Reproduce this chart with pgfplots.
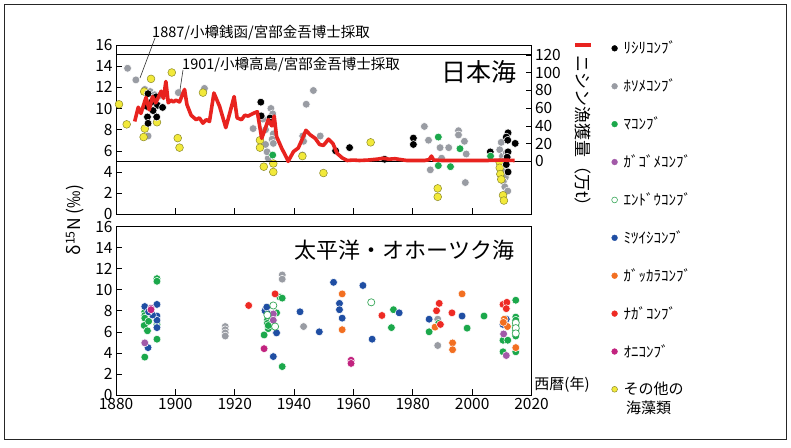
\documentclass[border=0pt]{standalone}
\usepackage{pgfplots}
\pgfplotsset{compat=1.18}
\usepackage{fontspec}
\setmainfont{Noto Sans CJK JP}
\definecolor{cGray}{RGB}{153,156,163}
\definecolor{cGreen}{RGB}{27,168,75}
\definecolor{cPurple}{RGB}{162,89,168}
\definecolor{cOpen}{RGB}{58,168,90}
\definecolor{cBlue}{RGB}{31,78,163}
\definecolor{cOrange}{RGB}{242,111,33}
\definecolor{cRed}{RGB}{238,42,36}
\definecolor{cMag}{RGB}{194,35,127}
\definecolor{cYel}{RGB}{242,233,58}
\definecolor{cYelE}{RGB}{140,138,42}
\definecolor{cHer}{RGB}{232,35,31}
\pgfplotsset{
  dot/.style={only marks, mark=*, mark size=3.9pt, mark options={fill=#1, draw=white, line width=0.5pt}},
  ydot/.style={only marks, mark=*, mark size=3.9pt, mark options={fill=cYel, draw=cYelE, line width=0.5pt}},
  odot/.style={only marks, mark=*, mark size=3.6pt, mark options={fill=white, draw=cOpen, line width=0.7pt}},
  ldot/.style={only marks, mark=*, mark size=2.9pt, mark options={fill=#1, draw=#1}},
  base/.style={scale only axis, width=415.5pt, xmin=1880, xmax=2020, ymin=0, ymax=16,
    ytick={0,2,...,16}, xtick={1880,1900,...,2020}, tick align=inside, major tick length=6pt,
    tick style={black, line width=0.6pt}, axis line style={line width=0.8pt},
    ticklabel style={font=\fontsize{15.5}{16}\selectfont},
    /pgf/number format/assume math mode=true, /pgf/number format/1000 sep={},
    xtick pos=bottom, ytick pos=left},
}
\begin{document}
\begin{tikzpicture}[x=1pt,y=1pt]
\path[use as bounding box] (0,0) rectangle (791,447);
\fill[white] (0,0) rectangle (791,447);
\draw[black!85, line width=0.8pt] (4,7.5) rectangle (786.5,443);
% ---------------- top panel ----------------
\begin{axis}[base, at={(116pt,232.7pt)}, anchor=south west, height=169.3pt, xticklabels={},
  legend cell align=left,
  legend style={draw=none, fill=none, at={(1,1)}, anchor=north west, xshift=80pt, yshift=5pt,
    font=\fontsize{15}{18}\selectfont, row sep=21.6pt, column sep=5pt, inner sep=0pt, nodes={inner sep=1pt}}]
\addplot[dot=cGray, forget plot] table {
1883.9 13.8
1886.7 12.7
1889.7 11.8
1891.5 11.6
1893.0 11.3
1894.5 11.2
1890.8 7.4
1901.0 11.5
1909.8 11.9
1926.2 8.1
1929.5 9.0
1930.4 8.0
1932.2 10.0
1932.8 9.5
1933.0 8.6
1933.0 7.6
1930.4 6.6
1932.6 7.1
1931.3 5.3
1933.0 6.7
1930.9 5.9
1942.8 5.6
1942.9 7.4
1943.2 6.9
1944.1 10.4
1946.5 11.7
1948.8 7.4
1983.9 8.3
1985.3 7.0
1985.9 4.2
1989.2 6.3
1989.7 5.3
1992.1 6.3
1995.4 7.9
1995.4 7.5
1997.4 6.9
1998.0 5.7
1997.7 3.0
2009.3 6.1
2009.8 6.8
2010.2 5.5
2010.5 5.0
2011.0 4.5
2010.8 4.0
2011.2 3.5
2010.5 3.1
2011.0 2.6
2012.0 2.2
2011.5 5.8
2009.5 4.8
};
\addplot[ydot, forget plot] table {
1881.0 10.4
1883.6 8.5
1891.8 12.8
1898.8 13.4
1889.5 11.6
1889.7 8.1
1889.3 7.3
1893.8 8.7
1900.8 7.2
1901.4 6.3
1909.3 11.5
1928.5 7.0
1928.5 6.3
1929.8 4.5
1933.0 4.8
1933.0 4.0
1942.8 5.5
1949.9 3.9
1965.8 6.8
1988.4 2.45
1988.4 1.65
2009.3 4.9
2009.3 4.4
2009.5 3.8
2009.8 3.3
2010.4 1.8
2010.7 1.3
};
\addplot[dot=black, forget plot] table {
1890.8 11.4
1890.4 10.2
1890.6 9.2
1890.8 8.6
1892.0 10.6
1893.5 11.1
1894.0 10.3
1893.7 9.2
1895.7 10.1
1892.5 9.8
1928.8 10.6
1928.9 9.3
1931.9 9.1
1932.2 8.7
1954.0 6.0
1958.7 6.3
1970.5 5.2
1980.2 7.2
1980.2 6.6
2006.1 5.9
2012.1 7.7
2011.5 7.3
2012.0 7.0
2014.5 6.7
2012.1 5.9
2011.8 5.4
2011.5 4.7
2012.1 4.0
};
\addplot[dot=cGreen, forget plot] table {
1932.8 5.6
1988.6 7.3
1995.9 6.2
1988.6 4.6
1992.7 4.5
2006.2 5.5
};
\addlegendimage{ldot=black}\addlegendentry{ﾘｼﾘｺﾝﾌﾞ}
\addlegendimage{ldot=cGray}\addlegendentry{ﾎｿﾒｺﾝﾌﾞ}
\addlegendimage{ldot=cGreen}\addlegendentry{ﾏｺﾝﾌﾞ}
\addlegendimage{ldot=cPurple}\addlegendentry{ｶﾞｺﾞﾒｺﾝﾌﾞ}
\addlegendimage{only marks, mark=*, mark size=2.9pt, mark options={fill=white, draw=cOpen, line width=0.6pt}}\addlegendentry{ｴﾝﾄﾞｳｺﾝﾌﾞ}
\addlegendimage{ldot=cBlue}\addlegendentry{ﾐﾂｲｼｺﾝﾌﾞ}
\addlegendimage{ldot=cOrange}\addlegendentry{ｶﾞｯｶﾗｺﾝﾌﾞ}
\addlegendimage{ldot=cRed}\addlegendentry{ﾅｶﾞｺﾝﾌﾞ}
\addlegendimage{ldot=cMag}\addlegendentry{ｵﾆｺﾝﾌﾞ}
\addlegendimage{only marks, mark=*, mark size=2.9pt, mark options={fill=cYel, draw=cYelE, line width=0.5pt}}\addlegendentry{その他の}
\end{axis}
% herring catch, right axis
\begin{axis}[scale only axis, at={(116pt,232.7pt)}, anchor=south west, width=415.5pt, height=169.3pt,
  xmin=1880, xmax=2020, ymin=-59.6, ymax=131.1, axis x line=none, axis y line*=right,
  ytick={0,20,...,120}, tick align=inside, major tick length=6pt,
  tick style={black, line width=0.6pt}, axis line style={line width=0.8pt},
  ticklabel style={font=\fontsize{15.5}{16}\selectfont},
  /pgf/number format/assume math mode=true]
\addplot[black, line width=0.8pt] coordinates {(1880,0) (2020,0)};
\addplot[black, line width=0.8pt] coordinates {(1880,120.5) (2020,120.5)};
\addplot[cHer, line width=3.6pt, line join=round] table {
1886.3 45
1887.5 61
1888.4 54
1890.1 72
1891.2 58
1892.3 73
1893.4 66
1895.2 79
1896.0 71
1896.8 90
1897.6 66
1898.5 69
1899.3 67
1900.2 69
1901.4 67
1903.1 81
1903.9 64
1905.3 52
1907.0 47
1908.1 49
1909.3 43
1910.4 47
1911.5 45
1913.0 77
1914.9 62
1917.0 38
1918.3 54
1919.8 73
1920.8 49
1922.3 47
1923.4 52
1924.5 51
1926.2 54
1927.6 56
1929.1 26
1930.2 36
1931.3 47
1932.5 40
1933.3 51
1934.1 28
1935.8 15
1937.5 4
1938.0 0
1939.8 11
1941.4 15
1942.6 24
1944.0 35
1945.4 30
1947.1 26
1948.6 19
1949.9 18
1951.6 25
1953.1 20
1954.5 9
1956.2 4
1957.9 1
1960 1.5
1962 1
1965 1.5
1968 2.5
1970 3.5
1972 2.5
1974 3
1976 2
1978 1
1980 1
1984 1
1985.5 2
1986.3 6
1987 1.5
1990 1
2000 1
2005 1
2010 1.5
2014.3 1
};
\end{axis}
% ---------------- bottom panel ----------------
\begin{axis}[base, at={(116pt,52pt)}, anchor=south west, height=168.5pt]
\addplot[dot=cGray] table {
1916.8 6.5
1916.8 6.2
1916.8 5.9
1916.8 5.6
1936.0 11.4
1936.0 11.0
1943.2 6.5
1934.0 5.9
1988.4 7.2
1988.4 4.7
};
\addplot[dot=cGreen] table {
1889.7 7.9
1889.7 7.55
1889.7 7.3
1889.5 6.6
1890.6 6.1
1889.7 3.6
1891.0 7.0
1893.8 11.05
1893.8 10.8
1893.8 6.7
1893.8 5.3
1929.9 5.7
1931.0 7.1
1931.3 6.3
1931.0 6.8
1931.3 6.6
1934.1 7.8
1935.2 9.3
1936.0 9.2
1936.0 2.7
1972.8 6.4
1973.5 8.1
1985.5 6.0
1988.7 6.8
1998.3 6.35
2004.0 7.5
2010.4 5.2
2012.0 5.2
2010.4 4.1
2014.7 9.0
2014.7 7.4
2014.7 7.1
2014.7 6.6
2014.7 6.1
2014.7 5.6
2014.7 4.1
};
\addplot[dot=cBlue] table {
1889.7 8.4
1890.8 4.5
1893.8 8.6
1893.8 7.5
1893.8 7.1
1893.8 6.4
1892.3 7.6
1891.0 7.9
1930.2 8.0
1930.8 8.35
1931.5 7.7
1934.1 5.9
1933.0 3.65
1942.0 7.9
1948.5 6.0
1953.3 10.7
1955.3 8.7
1955.3 8.1
1956.2 7.3
1963.2 10.4
1966.3 5.3
1975.4 7.8
1985.5 7.2
1996.6 7.5
2011.5 7.2
2010.4 6.7
};
\addplot[dot=cOrange] table {
1956.2 9.6
1956.2 6.2
1987.5 6.45
1993.4 4.95
1993.4 4.3
1996.6 9.6
2010.8 7.2
2011.9 6.5
2010.5 6.9
2014.7 4.5
};
\addplot[dot=cRed] table {
1924.7 8.5
1933.6 9.6
1969.6 7.55
1988.0 8.0
1988.9 8.7
1989.3 6.7
1993.2 7.8
2010.4 8.6
2011.7 8.8
2011.5 8.2
};
\addplot[dot=cPurple] table {
1889.7 4.95
1891.8 8.25
1933.0 7.7
1933.0 7.1
2010.6 5.8
2011.5 3.75
};
\addplot[dot=cMag] table {
1891.8 8.1
1929.9 4.4
1959.2 3.3
1959.2 3.0
};
\addplot[odot] table {
1966.0 8.8
1933.0 8.5
1933.6 6.5
1931.0 7.6
2014.7 6.85
2014.7 6.35
2014.7 5.85
};
\end{axis}
% ---------------- texts ----------------
\draw[black!80, line width=0.6pt] (155,409) -- (140,369);
\draw[black!80, line width=0.6pt] (183,377) -- (180,357);
\node[anchor=west, inner sep=0pt, font=\fontsize{14.5}{15}\selectfont] at (152,414) {1887/小樽銭函/宮部金吾博士採取};
\node[anchor=west, inner sep=0pt, font=\fontsize{14.5}{15}\selectfont] at (182,382) {1901/小樽高島/宮部金吾博士採取};
\node[inner sep=0pt, font=\fontsize{25}{26}\selectfont] at (479,375) {日本海};
\node[inner sep=0pt, font=\fontsize{22}{23}\selectfont] at (404.5,197) {太平洋・オホーツク海};
\node[inner sep=0pt, rotate=-90, font=\fontsize{17}{18}\selectfont] at (583,312) {ニシン漁獲量（万t）};
\draw[cHer, line width=3.6pt] (575,402) -- (591,402);
\node[inner sep=0pt, rotate=90, font=\fontsize{17.5}{18}\selectfont] at (75,227) {δ\textsuperscript{15}N (‰)};
\node[inner sep=0pt, font=\fontsize{15}{16}\selectfont] at (562,62) {西暦(年)};
\node[anchor=west, inner sep=0pt, font=\fontsize{15}{16}\selectfont] at (626,39) {海藻類};
\end{tikzpicture}
\end{document}
